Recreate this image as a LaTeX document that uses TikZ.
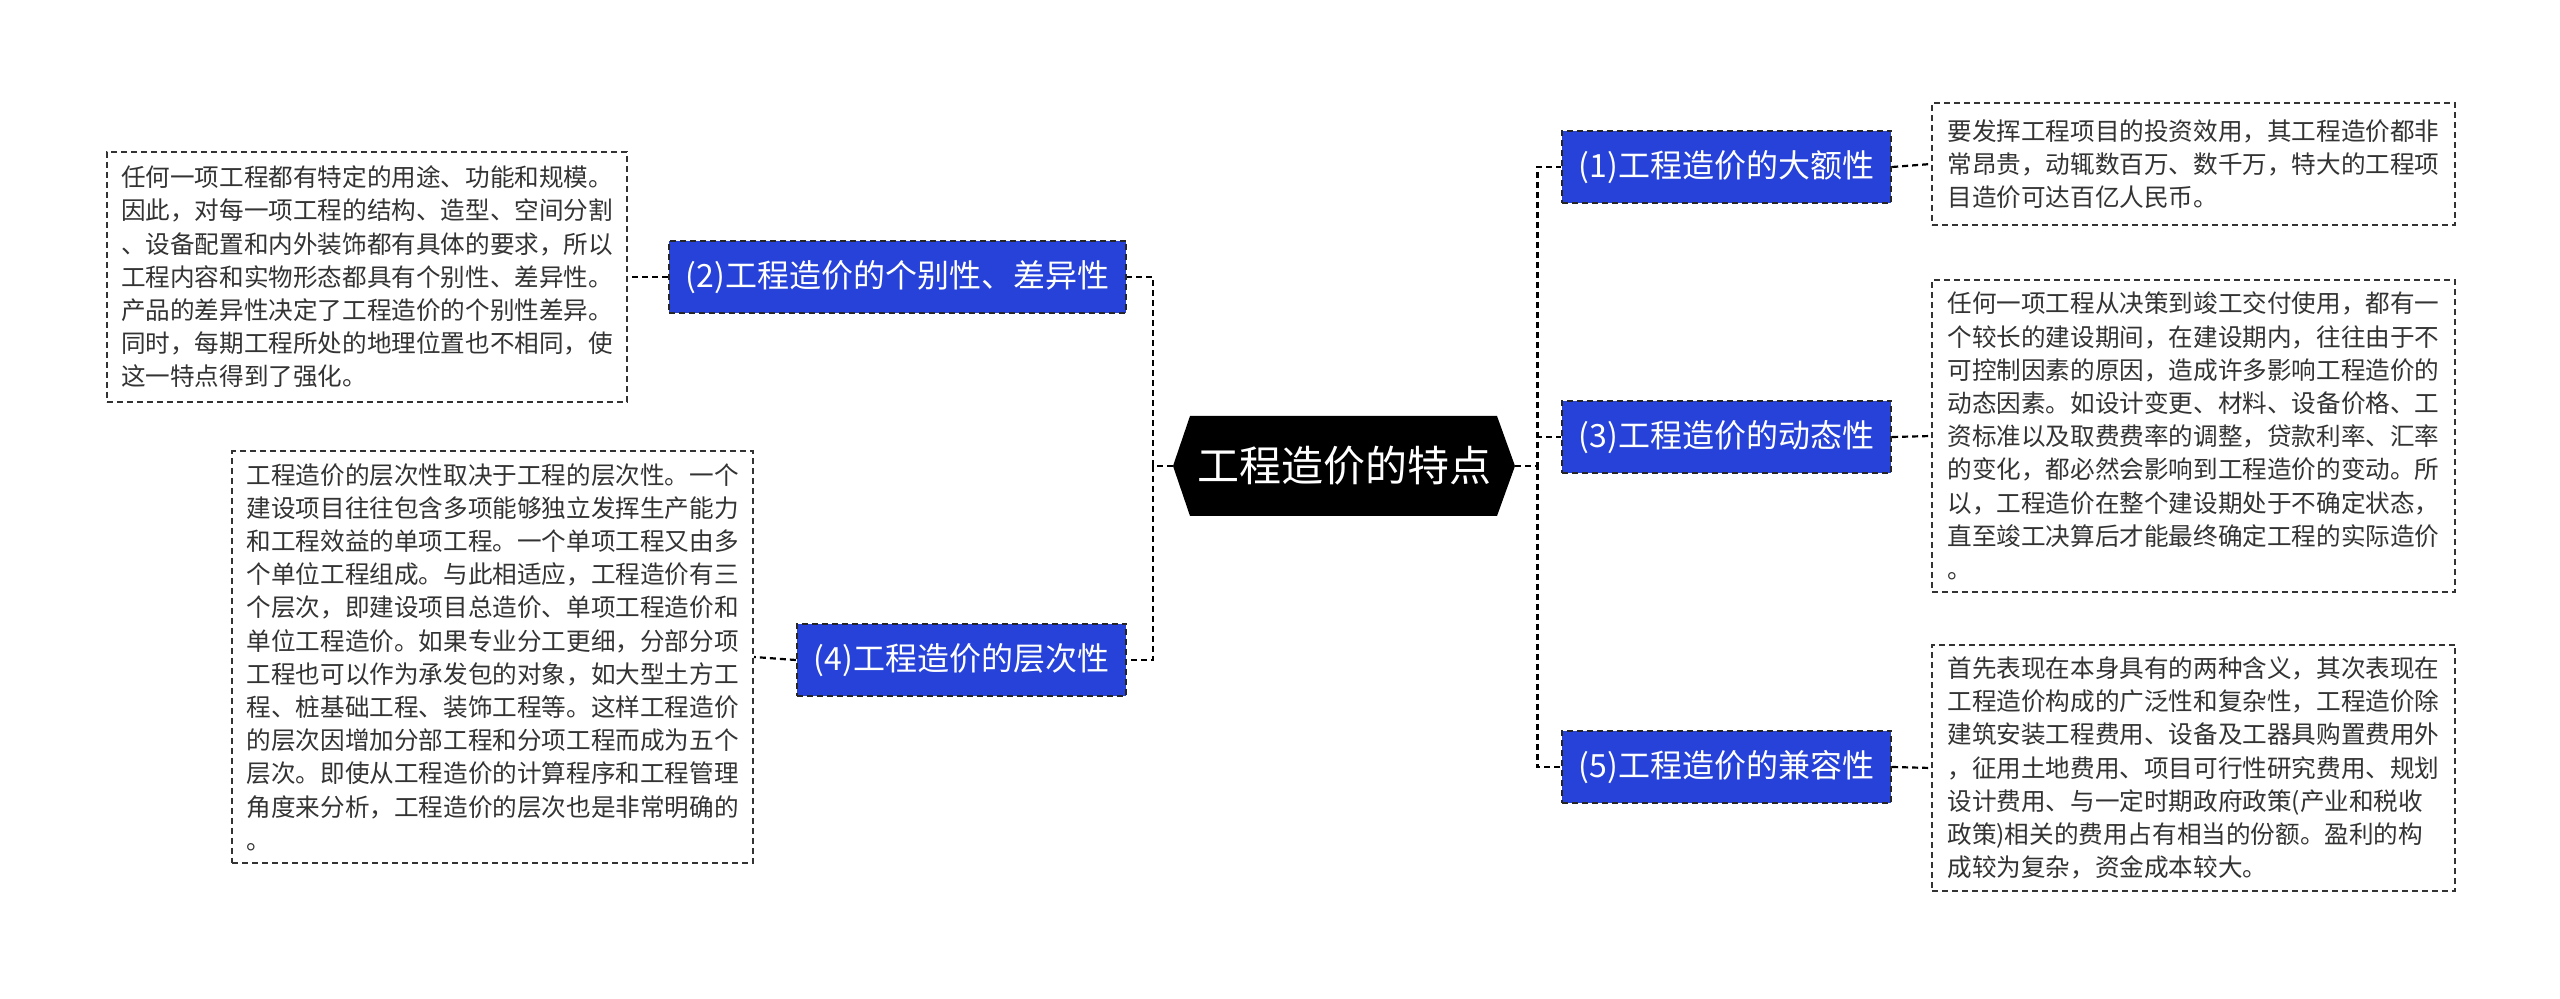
\documentclass[tikz,border=0pt]{standalone}
\usepackage{fontspec}
\setmainfont{Noto Sans CJK SC}
\definecolor{nodeblue}{RGB}{38,66,216}
\definecolor{txtgray}{RGB}{51,51,51}
\begin{document}
\begin{tikzpicture}[x=0.5pt,y=-0.5pt,
  topicbox/.style={draw=black!85, dash pattern=on 3pt off 2pt, line width=0.9pt, fill=nodeblue, text=white,
    font=\fontsize{16pt}{19pt}\selectfont, minimum height=36pt, inner xsep=8.5pt, inner ysep=0pt},
  notebox/.style={draw=txtgray, dash pattern=on 3pt off 2pt, line width=0.9pt, text=txtgray, align=left,
    font=\fontsize{12.3pt}{16.6pt}\selectfont, inner sep=6pt},
  link/.style={draw=black, dash pattern=on 3pt off 2pt, line width=1.1pt},
  mainbox/.style={text=white, font=\fontsize{21pt}{25pt}\selectfont, minimum width=171pt, minimum height=50pt, inner sep=0pt}]
\useasboundingbox (0,0) rectangle (2560,999);
\fill[white] (0,0) rectangle (2560,999);
% central topic
\fill[black] (1173,466) -- (1190,416) -- (1497,416) -- (1515,466) -- (1497,516) -- (1190,516) -- cycle;
\node[mainbox] (main) at (1344,466) {工程造价的特点};
% topics
\node[topicbox, anchor=west] (b1) at (1561,167) {(1)工程造价的大额性};
\node[topicbox, anchor=west] (b3) at (1561,437) {(3)工程造价的动态性};
\node[topicbox, anchor=west] (b5) at (1561,767) {(5)工程造价的兼容性};
\node[topicbox, anchor=east] (b2) at (1127,277) {(2)工程造价的个别性、差异性};
\node[topicbox, anchor=east] (b4) at (1127,660) {(4)工程造价的层次性};
% notes
\node[notebox, anchor=west, minimum width=261.5pt, minimum height=61pt] (n1) at (1931,164)
 {要发挥工程项目的投资效用，其工程造价都非\\常昂贵，动辄数百万、数千万，特大的工程项\\目造价可达百亿人民币。};
\node[notebox, anchor=west, minimum width=261.5pt, minimum height=155pt] (n3) at (1931,436)
 {任何一项工程从决策到竣工交付使用，都有一\\个较长的建设期间，在建设期内，往往由于不\\可控制因素的原因，造成许多影响工程造价的\\动态因素。如设计变更、材料、设备价格、工\\资标准以及取费费率的调整，贷款利率、汇率\\的变化，都必然会影响到工程造价的变动。所\\以，工程造价在整个建设期处于不确定状态，\\直至竣工决算后才能最终确定工程的实际造价\\。};
\node[notebox, anchor=west, minimum width=261.5pt, minimum height=123pt] (n5) at (1931,768)
 {首先表现在本身具有的两种含义，其次表现在\\工程造价构成的广泛性和复杂性，工程造价除\\建筑安装工程费用、设备及工器具购置费用外\\，征用土地费用、项目可行性研究费用、规划\\设计费用、与一定时期政府政策(产业和税收\\政策)相关的费用占有相当的份额。盈利的构\\成较为复杂，资金成本较大。};
\node[notebox, anchor=east, minimum width=260pt, minimum height=125pt] (n2) at (628,277)
 {任何一项工程都有特定的用途、功能和规模。\\因此，对每一项工程的结构、造型、空间分割\\、设备配置和内外装饰都有具体的要求，所以\\工程内容和实物形态都具有个别性、差异性。\\产品的差异性决定了工程造价的个别性差异。\\同时，每期工程所处的地理位置也不相同，使\\这一特点得到了强化。};
\node[notebox, anchor=east, minimum width=260.5pt, minimum height=203pt] (n4) at (754,657)
 {工程造价的层次性取决于工程的层次性。一个\\建设项目往往包含多项能够独立发挥生产能力\\和工程效益的单项工程。一个单项工程又由多\\个单位工程组成。与此相适应，工程造价有三\\个层次，即建设项目总造价、单项工程造价和\\单位工程造价。如果专业分工更细，分部分项\\工程也可以作为承发包的对象，如大型土方工\\程、桩基础工程、装饰工程等。这样工程造价\\的层次因增加分部工程和分项工程而成为五个\\层次。即使从工程造价的计算程序和工程管理\\角度来分析，工程造价的层次也是非常明确的\\。};
% connectors
\draw[link] (main.west) -- ++(-20,0) |- (b2.east);
\draw[link] (main.west) -- ++(-20,0) |- (b4.east);
\draw[link] (main.east) -- ++(22,0) |- (b1.west);
\draw[link] (main.east) -- ++(22,0) |- (b3.west);
\draw[link] (main.east) -- ++(22,0) |- (b5.west);
\draw[link] (b1.east) -- (n1.west);
\draw[link] (b3.east) -- (n3.west);
\draw[link] (b5.east) -- (n5.west);
\draw[link] (b2.west) -- (n2.east);
\draw[link] (b4.west) -- (n4.east);
\end{tikzpicture}
\end{document}
